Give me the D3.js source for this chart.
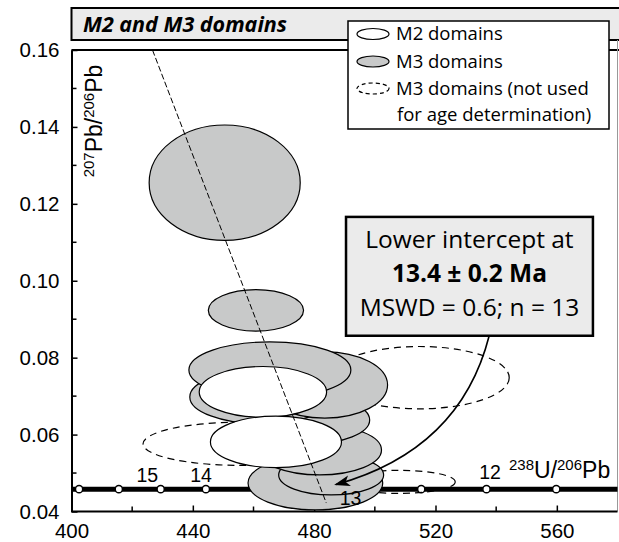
<!DOCTYPE html>
<html>
<head>
<meta charset="utf-8">
<script src="https://cdn.jsdelivr.net/npm/d3@7"></script>
<style>
  body { margin: 0; background: #fff; }
  svg { display: block; }
  .tick text { font-family: "Liberation Sans", Arial, sans-serif; font-size: 20.5px; fill: #000; }
</style>
</head>
<body>
<div id="chart"></div>
<script>
// M2 domains (238U/206Pb, 207Pb/206Pb, half-widths)
const m2U = [463.1, 467.4];
const m2Pb = [0.0711, 0.0581];
const m2ErrU = [21.0, 21.6];
const m2ErrPb = [0.0066, 0.0067];

// M3 domains used for the age (drawn bottom to top)
const m3U = [480.4, 485.6, 481.8, 478.5, 462.7, 483.5, 465.4, 450.5, 460.8];
const m3Pb = [0.0474, 0.0495, 0.056, 0.0638, 0.0698, 0.0729, 0.0768, 0.1255, 0.0923];
const m3ErrU = [22.2, 17.3, 20.4, 19.8, 23.7, 20.7, 26.7, 24.9, 15.7];
const m3ErrPb = [0.007, 0.0052, 0.0065, 0.0062, 0.007, 0.0086, 0.0073, 0.015, 0.0054];

// M3 domains not used
const nuU = [514.7, 455.5, 508.1];
const nuPb = [0.0748, 0.0576, 0.0477];
const nuErrU = [29.6, 31.9, 18.4];
const nuErrPb = [0.0081, 0.0056, 0.003];

// concordia (Ma marks) and discordia
const concordiaPb = 0.0458;
const concordiaMarks = [402.5, 415.6, 429.4, 444.3, 515.3, 536.8, 559.8];
const ageLabels = ["15", "14", "13", "12"];
const ageLabelU = [425.0, 442.7, 492.0, 538.0];
const ageLabelPb = [0.0477, 0.0477, 0.0416, 0.0485];
const discordiaU = [426.7, 484.0];
const discordiaPb = [0.16, 0.0422];

const xTicks = [400, 440, 480, 520, 560];
const yTicks = [0.04, 0.06, 0.08, 0.10, 0.12, 0.14, 0.16];

const W = 619, H = 542;
const myriad = '"Open Sans", "Noto Sans", sans-serif';
const arial = '"Liberation Sans", Arial, sans-serif';
const grayFill = "#c8c9c9";
const boxFill = "#ebebeb";

const svg = d3.select("#chart").append("svg").attr("width", W).attr("height", H);

const x = d3.scaleLinear().domain([400, 580]).range([71.5, 617.5]);
const y = d3.scaleLinear().domain([0.04, 0.16]).range([511.5, 50]);

// title bar
svg.append("rect")
  .attr("x", 71.5).attr("y", 8).attr("width", 560).attr("height", 32)
  .attr("fill", boxFill).attr("stroke", "#000").attr("stroke-width", 2);
svg.append("text")
  .attr("x", 83).attr("y", 32)
  .attr("font-family", myriad).attr("font-size", 21.5)
  .attr("font-weight", "bold").attr("font-style", "italic")
  .text("M2 and M3 domains");

// plot frame
svg.append("rect")
  .attr("x", 71.5).attr("y", 50).attr("width", 560).attr("height", 461.5)
  .attr("fill", "#fff").attr("stroke", "none");
svg.append("line").attr("x1", 71.5).attr("x2", 619).attr("y1", 50).attr("y2", 50)
  .attr("stroke", "#000").attr("stroke-width", 2);
svg.append("line").attr("x1", 617.5).attr("x2", 617.5).attr("y1", 40).attr("y2", 511.5)
  .attr("stroke", "#999").attr("stroke-width", 1);

// minor ticks
const gMinor = svg.append("g").attr("stroke", "#000").attr("stroke-width", 1.5);
d3.range(420, 580, 40).forEach(v => {
  gMinor.append("line").attr("x1", x(v)).attr("x2", x(v)).attr("y1", 511.5).attr("y2", 506.5);
});
d3.range(0.05, 0.16, 0.02).forEach(v => {
  gMinor.append("line").attr("x1", 71.5).attr("x2", 76.5).attr("y1", y(v)).attr("y2", y(v));
});

const xAxis = svg.append("g")
  .attr("transform", "translate(0,511.5)")
  .call(d3.axisBottom(x).tickValues(xTicks).tickSize(-6).tickPadding(12).tickSizeOuter(0));
const yAxis = svg.append("g")
  .attr("transform", "translate(71.5,0)")
  .call(d3.axisLeft(y).tickValues(yTicks).tickFormat(d3.format(".2f")).tickSize(-6).tickPadding(12).tickSizeOuter(0));
[xAxis, yAxis].forEach(a => {
  a.select(".domain").attr("stroke", "#000").attr("stroke-width", 2);
  a.selectAll(".tick line").attr("stroke", "#000").attr("stroke-width", 1.5);
});
xAxis.select(".domain").attr("d", "M71.5,0H617.5");

// concordia
svg.append("line")
  .attr("x1", x(400)).attr("x2", x(580))
  .attr("y1", y(concordiaPb)).attr("y2", y(concordiaPb))
  .attr("stroke", "#000").attr("stroke-width", 5);
svg.append("g").selectAll("circle")
  .data(concordiaMarks).join("circle")
  .attr("cx", d => x(d)).attr("cy", y(concordiaPb)).attr("r", 3.6)
  .attr("fill", "#fff").attr("stroke", "#000").attr("stroke-width", 1.5);

// error ellipses
function ellipses(us, pbs, eu, ep, cls) {
  return svg.append("g").attr("class", cls).selectAll("ellipse")
    .data(us.map((u, i) => ({ u, pb: pbs[i], eu: eu[i], ep: ep[i] })))
    .join("ellipse")
    .attr("cx", d => x(d.u))
    .attr("cy", d => y(d.pb))
    .attr("rx", d => x(d.u + d.eu) - x(d.u))
    .attr("ry", d => y(d.pb - d.ep) - y(d.pb))
    .attr("stroke", "#000").attr("stroke-width", 1.2);
}
ellipses(nuU, nuPb, nuErrU, nuErrPb, "nu")
  .attr("fill", "none").attr("stroke-dasharray", "7,5");
ellipses(m3U, m3Pb, m3ErrU, m3ErrPb, "m3").attr("fill", grayFill);
ellipses(m2U, m2Pb, m2ErrU, m2ErrPb, "m2").attr("fill", "#fff");

// discordia
svg.append("line")
  .attr("x1", x(discordiaU[0])).attr("y1", y(discordiaPb[0]))
  .attr("x2", x(discordiaU[1])).attr("y2", y(discordiaPb[1]))
  .attr("stroke", "#000").attr("stroke-width", 1).attr("stroke-dasharray", "6,2.5");

// age labels on concordia
svg.append("g").selectAll("text")
  .data(ageLabels).join("text")
  .attr("x", (d, i) => x(ageLabelU[i])).attr("y", (d, i) => y(ageLabelPb[i]))
  .attr("text-anchor", "middle")
  .attr("font-family", arial).attr("font-size", 19.5)
  .text(d => d);

// axis titles
const xt = svg.append("text")
  .attr("x", 509).attr("y", 478)
  .attr("font-family", arial).attr("font-size", 23);
xt.append("tspan").attr("font-size", 15).attr("dy", -8).text("238");
xt.append("tspan").attr("dy", 8).text("U/");
xt.append("tspan").attr("font-size", 15).attr("dy", -8).text("206");
xt.append("tspan").attr("dy", 8).text("Pb");

const yt = svg.append("text")
  .attr("transform", "translate(102,121) rotate(-90)")
  .attr("text-anchor", "middle")
  .attr("font-family", arial).attr("font-size", 23);
yt.append("tspan").attr("font-size", 15).attr("dy", -8).text("207");
yt.append("tspan").attr("dy", 8).text("Pb/");
yt.append("tspan").attr("font-size", 15).attr("dy", -8).text("206");
yt.append("tspan").attr("dy", 8).text("Pb");

// arrow from the result box to the lower intercept
const arrowU = [537.7, 528.1, 487.2];
const arrowPb = [0.0857, 0.056, 0.047];
svg.append("defs").append("marker")
  .attr("id", "head").attr("viewBox", "0 -6 16 12")
  .attr("refX", 14).attr("refY", 0)
  .attr("markerWidth", 16).attr("markerHeight", 12)
  .attr("markerUnits", "userSpaceOnUse")
  .attr("orient", "auto")
  .append("path").attr("d", "M0,-5.5L16,0L0,5.5L4,0Z").attr("fill", "#000");
const ap = d3.path();
ap.moveTo(x(arrowU[0]), y(arrowPb[0]));
ap.quadraticCurveTo(x(arrowU[1]), y(arrowPb[1]), x(arrowU[2]), y(arrowPb[2]));
svg.append("path").attr("d", ap.toString())
  .attr("fill", "none").attr("stroke", "#000").attr("stroke-width", 1.6)
  .attr("marker-end", "url(#head)");

// result box
const bx0 = x(490.5), bx1 = x(571.9), by0 = y(0.1166), by1 = y(0.0857);
svg.append("rect")
  .attr("x", bx0).attr("y", by0).attr("width", bx1 - bx0).attr("height", by1 - by0)
  .attr("fill", boxFill).attr("stroke", "#000").attr("stroke-width", 2.5);
const bc = (bx0 + bx1) / 2;
const boxLines = [
  { t: "Lower intercept at", w: "normal", dy: 31.5 },
  { t: "13.4 \u00b1 0.2 Ma", w: "bold", dy: 65 },
  { t: "MSWD = 0.6; n = 13", w: "normal", dy: 99 }
];
svg.append("g").selectAll("text")
  .data(boxLines).join("text")
  .attr("x", bc).attr("y", d => by0 + d.dy)
  .attr("text-anchor", "middle")
  .attr("font-family", myriad).attr("font-size", 24.5)
  .attr("font-weight", d => d.w)
  .text(d => d.t);

// legend
const lg = svg.append("g");
lg.append("rect")
  .attr("x", 348).attr("y", 21).attr("width", 261).attr("height", 108)
  .attr("fill", "#fff").attr("stroke", "#000").attr("stroke-width", 1.5);
const legendItems = [
  { label: "M2 domains", fill: "#fff", dash: null, cy: 34 },
  { label: "M3 domains", fill: grayFill, dash: null, cy: 61.5 },
  { label: "M3 domains (not used", fill: "none", dash: "4,3", cy: 88.5 }
];
legendItems.forEach(d => {
  lg.append("ellipse").attr("cx", 373).attr("cy", d.cy).attr("rx", 16).attr("ry", 5.5)
    .attr("fill", d.fill).attr("stroke", "#000").attr("stroke-width", 1.2)
    .attr("stroke-dasharray", d.dash);
  lg.append("text").attr("x", 396).attr("y", d.cy + 6)
    .attr("font-family", myriad).attr("font-size", 18.5)
    .text(d.label);
});
lg.append("text").attr("x", 397).attr("y", 120.5)
  .attr("font-family", myriad).attr("font-size", 18.5)
  .text("for age determination)");
</script>
</body>
</html>
